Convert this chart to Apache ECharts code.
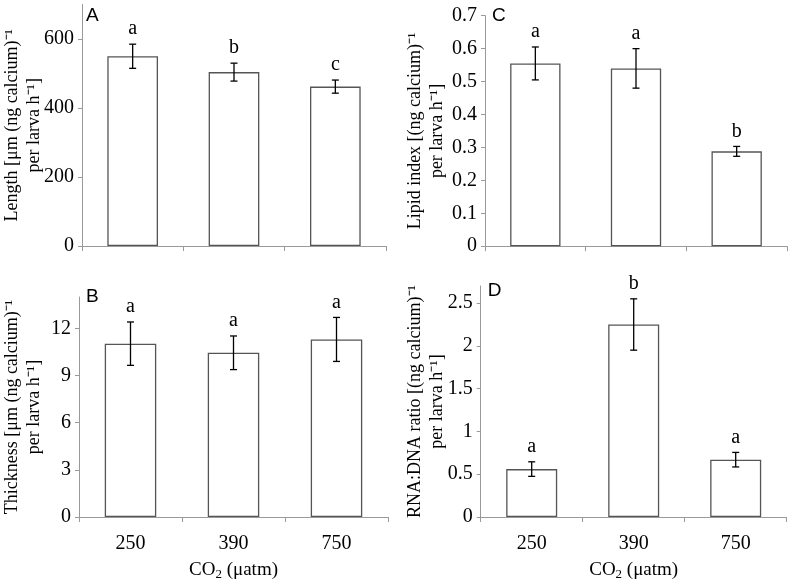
<!DOCTYPE html>
<html><head><meta charset="utf-8">
<script src="https://cdn.jsdelivr.net/npm/echarts@6/dist/echarts.min.js"></script>
<style>html,body{margin:0;padding:0;background:#fff}#c{width:789px;height:582px}</style>
</head><body><div id="c"></div>
<script>
const categories = ['250', '390', '750'];

const lengthMean = [550, 504, 462];
const lengthErr = [35, 26, 19];
const lengthLetters = ['a', 'b', 'c'];
const lengthTicks = [0, 200, 400, 600];

const thickMean = [11.03, 10.45, 11.3];
const thickErr = [1.38, 1.07, 1.4];
const thickLetters = ['a', 'a', 'a'];
const thickTicks = [0, 3, 6, 9, 12];

const lipidMean = [0.555, 0.54, 0.288];
const lipidErr = [0.05, 0.06, 0.015];
const lipidLetters = ['a', 'a', 'b'];
const lipidTicks = [0, 0.1, 0.2, 0.3, 0.4, 0.5, 0.6, 0.7];

const rnaMean = [0.56, 2.25, 0.67];
const rnaErr = [0.085, 0.3, 0.085];
const rnaLetters = ['a', 'b', 'a'];
const rnaTicks = [0, 0.5, 1, 1.5, 2, 2.5];

const SERIF = '"Liberation Serif", "Times New Roman", serif';
const AXC = '#9a9a9a';

const grids = [
  {left: 79, top: 4.5, width: 307, height: 241.5},
  {left: 79, top: 297, width: 309, height: 225.7},
  {left: 485, top: 15.7, width: 302, height: 230.5},
  {left: 480.7, top: 286, width: 306, height: 234}
];
const panels = [
  {mean: lengthMean, err: lengthErr, letters: lengthLetters, ticks: lengthTicks, max: 700,
   name: 'Length [μm (ng calcium)⁻¹\nper larva h⁻¹]', tag: 'A', showX: false, gap: 37, tagDy: 2},
  {mean: thickMean, err: thickErr, letters: thickLetters, ticks: thickTicks, max: 14,
   name: 'Thickness [μm (ng calcium)⁻¹\nper larva h⁻¹]', tag: 'B', showX: true, gap: 34, tagDy: -10},
  {mean: lipidMean, err: lipidErr, letters: lipidLetters, ticks: lipidTicks, max: 0.7,
   name: 'Lipid index [(ng calcium)⁻¹\nper larva h⁻¹]', tag: 'C', showX: false, gap: 37, tagDy: -9},
  {mean: rnaMean, err: rnaErr, letters: rnaLetters, ticks: rnaTicks, max: 2.7,
   name: 'RNA:DNA ratio [(ng calcium)⁻¹\nper larva h⁻¹]', tag: 'D', showX: true, gap: 32, tagDy: -5}
];

const xAxis = [], yAxis = [], series = [], graphic = [];
panels.forEach((p, i) => {
  xAxis.push({
    type: 'category', gridIndex: i, data: categories,
    axisLine: {lineStyle: {color: AXC, width: 1}},
    axisTick: {show: true, alignWithLabel: false, length: 5, lineStyle: {color: AXC}},
    axisLabel: {show: p.showX, color: '#000', fontFamily: SERIF, fontSize: 20, margin: 17},
    name: p.showX ? '{m|CO}{s|2}{m| (μatm)}' : '',
    nameLocation: 'middle', nameGap: 42, nameMoveOverlap: false,
    nameTextStyle: {rich: {
      m: {fontFamily: SERIF, fontSize: 19, color: '#000', lineHeight: 22},
      s: {fontFamily: SERIF, fontSize: 13, color: '#000', lineHeight: 12, verticalAlign: 'bottom'}
    }}
  });
  yAxis.push({
    type: 'value', gridIndex: i, min: 0, max: p.max,
    axisLine: {show: true, lineStyle: {color: AXC, width: 1}},
    axisTick: {show: true, length: 4, lineStyle: {color: AXC}, customValues: p.ticks},
    axisLabel: {color: '#000', fontFamily: SERIF, fontSize: 20, margin: 8, customValues: p.ticks},
    splitLine: {show: false},
    name: p.name, nameLocation: 'middle', nameRotate: 90, nameGap: p.gap, nameMoveOverlap: false,
    nameTextStyle: {fontFamily: SERIF, fontSize: 18, color: '#000', lineHeight: 22, align: 'center'}
  });
  series.push({
    type: 'bar', xAxisIndex: i, yAxisIndex: i, data: p.mean, barWidth: '50%', z: 2,
    itemStyle: {color: '#fff', borderColor: '#555', borderWidth: 1.3},
    silent: true
  });
  series.push({
    type: 'custom', xAxisIndex: i, yAxisIndex: i, clip: false, silent: true, z: 5,
    data: p.mean.map((m, k) => [k, m, p.err[k]]),
    renderItem: (params, api) => {
      const k = api.value(0), m = api.value(1), e = api.value(2);
      const hi = api.coord([k, m + e]), lo = api.coord([k, m - e]);
      const x = hi[0], cw = 3.5;
      const ls = {stroke: '#000', lineWidth: 1.3};
      return {type: 'group', children: [
        {type: 'line', shape: {x1: x, y1: hi[1], x2: x, y2: lo[1]}, style: ls},
        {type: 'line', shape: {x1: x - cw, y1: hi[1], x2: x + cw, y2: hi[1]}, style: ls},
        {type: 'line', shape: {x1: x - cw, y1: lo[1], x2: x + cw, y2: lo[1]}, style: ls},
        {type: 'text', style: {text: p.letters[k], x: x, y: hi[1] - 5, textAlign: 'center',
          textVerticalAlign: 'bottom', fill: '#000', font: '20px ' + SERIF}}
      ]};
    }
  });
  const g = grids[i];
  graphic.push({type: 'text', left: g.left + 7, top: g.top + p.tagDy,
    style: {text: p.tag, fill: '#000', font: '19px "Liberation Sans", Arial, sans-serif'}});
});

const chart = echarts.init(document.getElementById('c'), null, {renderer: 'canvas'});
chart.setOption({
  animation: false,
  backgroundColor: '#fff',
  grid: grids.map(g => Object.assign({containLabel: false}, g)),
  xAxis, yAxis, series, graphic
});
</script></body></html>
